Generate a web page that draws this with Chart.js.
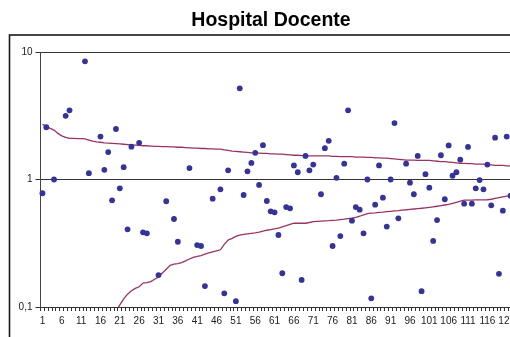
<!DOCTYPE html>
<html>
<head>
<meta charset="utf-8">
<script src="https://cdn.jsdelivr.net/npm/chart.js@4"></script>
<style>
  html, body { margin: 0; padding: 0; background: #fff; overflow: hidden; }
  #wrap { width: 560px; height: 360px; }
</style>
</head>
<body>
<div id="wrap"><canvas id="funnel" width="560" height="360"></canvas></div>
<script>
// categories (hospital services)
const categories = [
  1, 2, 3, 4, 5, 6, 7, 8, 9, 10, 11, 12, 13, 14, 15, 16, 17, 18, 19, 20,
  21, 22, 23, 24, 25, 26, 27, 28, 29, 30, 31, 32, 33, 34, 35, 36, 37, 38, 39, 40,
  41, 42, 43, 44, 45, 46, 47, 48, 49, 50, 51, 52, 53, 54, 55, 56, 57, 58, 59, 60,
  61, 62, 63, 64, 65, 66, 67, 68, 69, 70, 71, 72, 73, 74, 75, 76, 77, 78, 79, 80,
  81, 82, 83, 84, 85, 86, 87, 88, 89, 90, 91, 92, 93, 94, 95, 96, 97, 98, 99, 100,
  101, 102, 103, 104, 105, 106, 107, 108, 109, 110, 111, 112, 113, 114, 115, 116, 117, 118, 119, 120,
  121, 122
];

// observed ratio per category (null = no point)
const ratios = [
  0.78, 2.57, null, 1.0, null, null, 3.16, 3.49, null, null,
  null, 8.45, 1.12, null, null, 2.17, 1.19, 1.64, 0.687, 2.49,
  0.853, 1.25, 0.407, 1.81, null, 1.94, 0.385, 0.378, null, null,
  0.178, null, 0.675, null, 0.49, 0.325, null, null, 1.23, null,
  0.306, 0.301, 0.146, null, 0.707, null, 0.838, 0.128, 1.18, null,
  0.111, 5.19, 0.756, 1.16, 1.35, 1.62, 0.906, 1.86, 0.678, 0.563,
  0.553, 0.367, 0.184, 0.608, 0.594, 1.29, 1.14, 0.163, 1.53, 1.18,
  1.31, null, 0.766, 1.76, 2.01, 0.301, 1.03, 0.36, 1.33, 3.49,
  0.475, 0.608, 0.58, 0.378, 1.0, 0.117, 0.635, 1.29, 0.72, 0.427,
  1.0, 2.77, 0.496, null, 1.33, 0.944, 0.766, 1.53, 0.133, 1.10,
  0.863, 0.33, 0.481, 1.55, 0.70, 1.85, 1.07, 1.14, 1.43, 0.646,
  1.80, 0.646, 0.853, 0.99, 0.838, 1.31, 0.627, 2.13, 0.182, 0.569,
  2.17, 0.746
];

// upper control limit
const upperLimit = [
  2.71, 2.62, 2.52, 2.44, 2.30, 2.20, 2.14, 2.10, 2.10, 2.09,
  2.09, 2.08, 2.04, 2.00, 1.97, 1.96, 1.94, 1.93, 1.92, 1.91,
  1.90, 1.89, 1.88, 1.87, 1.86, 1.85, 1.84, 1.84, 1.83, 1.82,
  1.82, 1.81, 1.81, 1.80, 1.80, 1.79, 1.79, 1.78, 1.77, 1.76,
  1.76, 1.75, 1.75, 1.74, 1.74, 1.73, 1.73, 1.71, 1.69, 1.67,
  1.66, 1.65, 1.64, 1.63, 1.62, 1.62, 1.61, 1.60, 1.60, 1.59,
  1.59, 1.58, 1.58, 1.57, 1.56, 1.55, 1.55, 1.54, 1.54, 1.53,
  1.53, 1.53, 1.53, 1.53, 1.53, 1.52, 1.52, 1.51, 1.51, 1.51,
  1.51, 1.50, 1.50, 1.50, 1.49, 1.49, 1.48, 1.48, 1.47, 1.47,
  1.46, 1.45, 1.44, 1.43, 1.42, 1.42, 1.42, 1.41, 1.41, 1.41,
  1.41, 1.40, 1.39, 1.38, 1.38, 1.37, 1.36, 1.35, 1.34, 1.34,
  1.33, 1.33, 1.32, 1.32, 1.32, 1.31, 1.30, 1.29, 1.29, 1.29,
  1.28, 1.28
];

// lower control limit (below 0,1 for the first categories)
const lowerLimit = [
  null, null, null, null, null, null, null, null, null, null,
  null, null, null, null, null, null, null, null, 0.082, 0.092,
  0.104, 0.116, 0.126, 0.134, 0.140, 0.144, 0.154, 0.155, 0.158, 0.165,
  0.172, 0.185, 0.198, 0.212, 0.217, 0.219, 0.223, 0.230, 0.238, 0.245,
  0.249, 0.253, 0.260, 0.266, 0.271, 0.276, 0.281, 0.310, 0.335, 0.345,
  0.358, 0.366, 0.371, 0.375, 0.378, 0.381, 0.386, 0.393, 0.400, 0.405,
  0.410, 0.415, 0.425, 0.435, 0.445, 0.454, 0.454, 0.454, 0.454, 0.460,
  0.467, 0.469, 0.471, 0.473, 0.475, 0.478, 0.481, 0.485, 0.489, 0.494,
  0.498, 0.505, 0.515, 0.528, 0.540, 0.545, 0.548, 0.552, 0.555, 0.559,
  0.563, 0.567, 0.571, 0.576, 0.579, 0.583, 0.587, 0.591, 0.595, 0.600,
  0.605, 0.611, 0.617, 0.624, 0.631, 0.638, 0.650, 0.663, 0.677, 0.688,
  0.689, 0.690, 0.691, 0.692, 0.693, 0.694, 0.700, 0.712, 0.722, 0.732,
  0.740, 0.746
];

const yTicks = [0.1, 1, 10];
const chartTitle = 'Hospital Docente';

// black frame around the chart and the title above it, like the spreadsheet export
const framePlugin = {
    id: 'frame',
    beforeDraw(chart) {
        const ctx = chart.ctx;
        ctx.save();
        ctx.strokeStyle = '#1a1a1a';
        ctx.lineWidth = 1.6;
        ctx.strokeRect(9.5, 35, 600, 400);
        ctx.fillStyle = '#000';
        ctx.font = 'bold 19.5px "Liberation Sans"';
        ctx.textAlign = 'center';
        ctx.textBaseline = 'alphabetic';
        ctx.fillText(chartTitle, 271, 26);
        ctx.restore();
    }
};

const ctx = document.getElementById('funnel').getContext('2d');
new Chart(ctx, {
    type: 'line',
    data: {
        labels: categories.map(String),
        datasets: [{
            label: 'Razón',
            data: ratios,
            showLine: false,
            pointRadius: 2.9,
            pointHoverRadius: 2.9,
            pointBackgroundColor: '#333399',
            pointBorderWidth: 0
        }, {
            label: 'Límite superior',
            data: upperLimit,
            borderColor: '#993366',
            borderWidth: 1.3,
            pointRadius: 0,
            tension: 0
        }, {
            label: 'Límite inferior',
            data: lowerLimit,
            borderColor: '#993366',
            borderWidth: 1.3,
            pointRadius: 0,
            tension: 0
        }]
    },
    options: {
        responsive: false,
        animation: false,
        layout: {
            padding: { left: 0, right: 47.5, top: 52, bottom: 23 }
        },
        scales: {
            x: {
                type: 'category',
                offset: true,
                afterFit: function (scale) { scale.height = 30; },
                border: { color: '#333', width: 1 },
                grid: {
                    offset: true,
                    drawOnChartArea: false,
                    drawTicks: true,
                    tickLength: 4,
                    color: '#333'
                },
                ticks: {
                    autoSkip: false,
                    maxRotation: 0,
                    padding: 4,
                    color: '#222',
                    font: { family: 'Liberation Sans', size: 10 },
                    callback: function (value, index) {
                        return index % 5 === 0 ? this.getLabelForValue(value) : '';
                    }
                }
            },
            y: {
                type: 'logarithmic',
                min: 0.1,
                max: 10,
                afterBuildTicks: function (scale) {
                    scale.ticks = yTicks.map(v => ({ value: v }));
                },
                afterFit: function (scale) { scale.width = 40.5; },
                border: { color: '#444', width: 1 },
                grid: {
                    color: '#333',
                    lineWidth: 1,
                    drawTicks: true,
                    tickLength: 5
                },
                ticks: {
                    padding: 3,
                    color: '#222',
                    font: { family: 'Liberation Sans', size: 10 },
                    callback: function (value) {
                        return String(value).replace('.', ',');
                    }
                }
            }
        },
        plugins: {
            legend: { display: false },
            tooltip: { enabled: false },
            title: { display: false }
        }
    },
    plugins: [framePlugin]
});
</script>
</body>
</html>
